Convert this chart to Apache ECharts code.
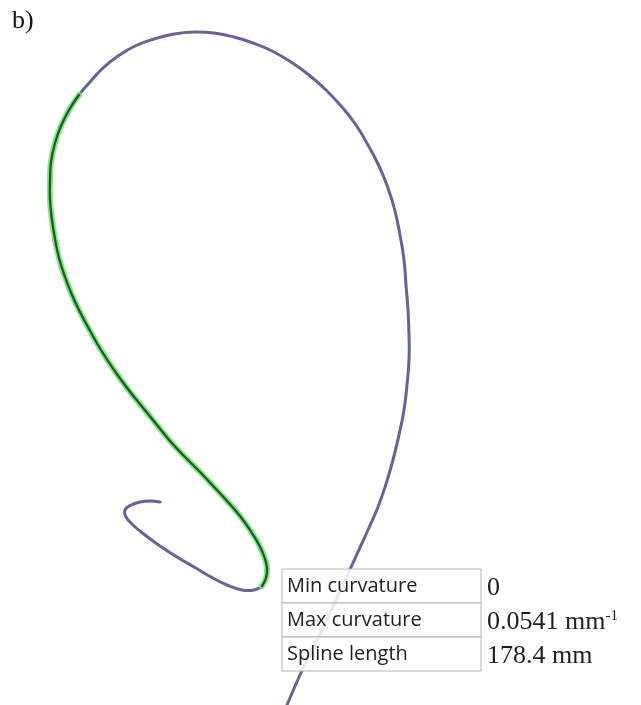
<!DOCTYPE html>
<html>
<head>
<meta charset="utf-8">
<script src="https://cdn.jsdelivr.net/npm/echarts@6/dist/echarts.min.js"></script>
<style>
  html, body { margin: 0; padding: 0; background: #fff; }
  #chart { width: 641px; height: 705px; }
</style>
</head>
<body>
<div id="chart"></div>
<script>
// Spline centre-line, traced in plane coordinates (y grows downward)
const splineX = [160, 150, 140, 131, 125, 126, 133, 145, 160, 177, 194, 211, 227, 242, 254, 262,
  266, 267, 264, 258, 250, 240, 228, 215, 200, 185, 170, 157, 144, 131, 119, 108, 98, 89, 80, 72,
  65, 59, 55, 52, 50, 50, 51, 55, 61, 69, 79,
  90, 103, 118, 135, 154, 174, 194, 214, 234, 253, 272, 291, 309, 326, 342, 356, 368, 379, 388,
  395, 400, 404, 406, 408, 409, 409, 407, 404, 399, 393, 386, 378, 368, 357, 346, 335, 324, 312,
  300, 287];
const splineY = [502, 501, 502, 505, 510, 517, 525, 535, 546, 557, 567, 577, 585, 590, 590, 586,
  578, 568, 556, 543, 530, 516, 502, 488, 472, 457, 441, 425, 409, 393, 377, 361, 345, 329, 312, 295,
  277, 258, 239, 220, 200, 180, 162, 143, 126, 110, 95,
  82, 68, 56, 46, 39, 34, 32, 33, 37, 43, 51, 62, 75, 90, 107, 125, 145, 166, 188,
  211, 235, 260, 285, 310, 335, 360, 385, 410, 435, 460, 484, 507, 530, 554, 578, 602, 626, 650,
  675, 705];
// Index range of the highlighted (selected) part of the spline
const highlightStart = 15;
const highlightEnd = 46;

// Properties table
const tableLabels = ['Min curvature', 'Max curvature', 'Spline length'];
const tableValues = ['0', '0.0541 mm', '178.4 mm'];
const tableUnitsSup = ['', '-1', ''];
const panelTag = 'b)';

const chart = echarts.init(document.getElementById('chart'), null, { renderer: 'canvas' });

// Renders the spline as one smooth path through the axis-mapped points
function renderSpline(params, api) {
  const pts = splineX.map((x, i) => api.coord([x, splineY[i]]));
  const sel = pts.slice(highlightStart, highlightEnd + 1);
  return {
    type: 'group',
    children: [
      { type: 'polyline', shape: { points: pts, smooth: 0.45 },
        style: { stroke: '#64649a', lineWidth: 3, fill: null, lineJoin: 'round', lineCap: 'round' } },
      { type: 'polyline', shape: { points: sel, smooth: 0.45 },
        style: { stroke: '#78e478', lineWidth: 6, opacity: 0.9, fill: null, lineCap: 'round' } },
      { type: 'polyline', shape: { points: sel, smooth: 0.45 },
        style: { stroke: '#1c5a22', lineWidth: 2.2, fill: null, lineCap: 'round' } }
    ]
  };
}

const tblLeft = 282, tblDivider = 481, tblTop = 569, rowH = 34;
const graphics = [];
tableLabels.forEach((lab, i) => {
  const cy = tblTop + i * rowH + rowH / 2;
  graphics.push({
    type: 'rect', z: 100,
    shape: { x: tblLeft, y: tblTop + i * rowH, width: tblDivider - tblLeft, height: rowH },
    style: { fill: 'rgba(255,255,255,0.86)', stroke: '#b4b4b4', lineWidth: 1 }
  });
  graphics.push({
    type: 'text', z: 101, x: tblLeft + 5, y: cy,
    style: { text: lab, font: '20px "Open Sans", sans-serif', fill: '#1e1e1e', verticalAlign: 'middle' }
  });
  graphics.push({
    type: 'text', z: 101, x: tblDivider + 6, y: cy + 2,
    style: {
      text: tableUnitsSup[i] ? '{v|' + tableValues[i] + '}{s|' + tableUnitsSup[i] + '}' : '{v|' + tableValues[i] + '}',
      verticalAlign: 'middle',
      rich: {
        v: { font: '26px "Liberation Serif", "DejaVu Serif", serif', fill: '#1e1e1e', verticalAlign: 'bottom' },
        s: { font: '15px "Liberation Serif", "DejaVu Serif", serif', fill: '#1e1e1e', verticalAlign: 'top', padding: [0, 0, 12, 0] }
      }
    }
  });
});
graphics.push({
  type: 'text', z: 101, x: 12, y: 8,
  style: { text: panelTag, font: '26px "Liberation Serif", "DejaVu Serif", serif', fill: '#111' }
});

chart.setOption({
  animation: false,
  backgroundColor: '#ffffff',
  grid: { left: 0, right: 0, top: 0, bottom: 0 },
  xAxis: { type: 'value', min: 0, max: 641, show: false },
  yAxis: { type: 'value', min: 0, max: 705, inverse: true, show: false },
  series: [
    {
      name: 'spline', type: 'custom', coordinateSystem: 'cartesian2d',
      data: [[splineX[0], splineY[0]]], renderItem: renderSpline, clip: false, z: 2,
      silent: true
    }
  ],
  graphic: graphics
});
</script>
</body>
</html>
